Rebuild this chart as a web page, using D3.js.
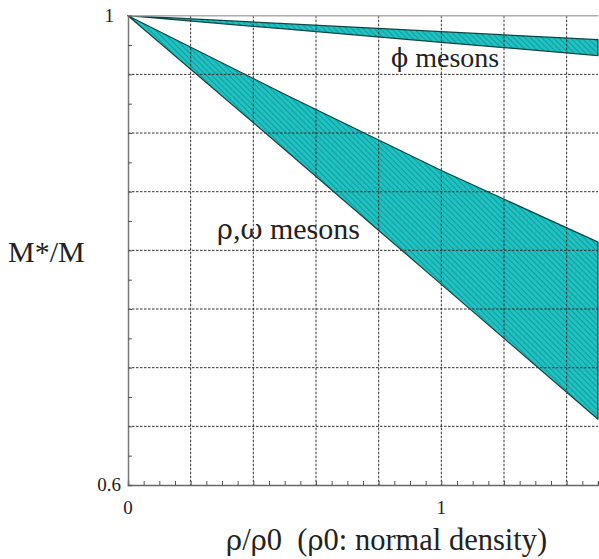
<!DOCTYPE html>
<html><head><meta charset="utf-8">
<script src="https://cdn.jsdelivr.net/npm/d3@7"></script>
<style>
html,body{margin:0;padding:0;background:#fff;}
text{font-family:"Liberation Serif","Times New Roman",serif;fill:#222;}
tspan.gr{font-family:"DejaVu Serif",serif;}
</style></head>
<body>
<script>
// Data
const density = [0, 0.5, 1.0, 1.5];
const phiUpper = [1, 0.9932, 0.9864, 0.9796];
const phiLower = [1, 0.9887, 0.9773, 0.9660];
const rhoUpper = [1, 0.9330, 0.8680, 0.8070];
const rhoLower = [1, 0.8860, 0.7710, 0.6560];
const xTickLabels = [0, 1];
const yTickLabels = [0.6, 1];

const W = 599, H = 559;
const x = d3.scaleLinear().domain([0, 1.5]).range([128, 598]);
const y = d3.scaleLinear().domain([0.6, 1]).range([485, 15.7]);

const svg = d3.select("body").append("svg").attr("width", W).attr("height", H);
const defs = svg.append("defs");
const pat = defs.append("pattern").attr("id", "hatch").attr("patternUnits", "userSpaceOnUse")
  .attr("width", 4).attr("height", 4).attr("patternTransform", "rotate(-45)");
pat.append("rect").attr("width", 4).attr("height", 4).attr("fill", "#1fc2c2");
pat.append("line").attr("x1", 0).attr("y1", 0).attr("x2", 0).attr("y2", 4)
  .attr("stroke", "#128585").attr("stroke-width", 1.3);

const bandData = (up, lo) => density.map((d, i) => ({x: d, y0: lo[i], y1: up[i]}));
const area = d3.area().x(d => x(d.x)).y0(d => y(d.y0)).y1(d => y(d.y1));

[[phiUpper, phiLower], [rhoUpper, rhoLower]].forEach(([u, l]) => {
  svg.append("path").datum(bandData(u, l)).attr("d", area)
    .attr("fill", "url(#hatch)").attr("stroke", "#0b4545").attr("stroke-width", 1.2)
    .attr("stroke-linejoin", "round");
});

// grid
const g = svg.append("g");
d3.range(0.2, 1.45, 0.2).forEach(v => {
  g.append("line").attr("x1", x(v)).attr("x2", x(v)).attr("y1", y(1)).attr("y2", y(0.6))
    .attr("stroke", "#333").attr("stroke-width", 1).attr("stroke-dasharray", "2.5,1.5");
});
d3.range(0.65, 0.99, 0.05).forEach(v => {
  g.append("line").attr("x1", x(0)).attr("x2", x(1.5)).attr("y1", y(v)).attr("y2", y(v))
    .attr("stroke", "#333").attr("stroke-width", 1).attr("stroke-dasharray", "2.5,1.5");
});
// top border
g.append("line").attr("x1", x(0)).attr("x2", x(1.5)).attr("y1", y(1)).attr("y2", y(1))
  .attr("stroke", "#aaa").attr("stroke-width", 1.5);

// axes
const xAxis = d3.axisBottom(x).tickValues(d3.range(0, 1.51, 0.05)).tickSize(-4).tickFormat("");
svg.append("g").attr("transform", `translate(0,${y(0.6)})`).call(xAxis)
  .call(s => { s.select(".domain").attr("stroke", "#666").attr("stroke-width", 1.5); s.selectAll(".tick line").attr("stroke", "#555"); });
const yAxis = d3.axisLeft(y).tickValues(d3.range(0.6, 1.001, 0.025)).tickSize(-4).tickFormat("");
svg.append("g").attr("transform", `translate(${x(0)},0)`).call(yAxis)
  .call(s => { s.select(".domain").attr("stroke", "#777").attr("stroke-width", 1.5); s.selectAll(".tick line").attr("stroke", "#555"); });

// tick labels
svg.selectAll(".xl").data(xTickLabels).enter().append("text")
  .attr("x", d => x(d)).attr("y", 514).attr("text-anchor", "middle")
  .attr("font-size", 19).text(d => d);
svg.selectAll(".yl").data(yTickLabels).enter().append("text")
  .attr("x", d => d === 1 ? 114 : 121).attr("y", d => y(d) + 6).attr("text-anchor", "end")
  .attr("font-size", 19).text(d => d);

// labels with Greek spans
function label(xp, yp, size, parts) {
  const t = svg.append("text").attr("x", xp).attr("y", yp).attr("font-size", size)
    .style("white-space", "pre");
  parts.forEach(([s, gr]) => { const ts = t.append("tspan").text(s); if (gr) ts.attr("class", "gr").attr("font-size", size * 0.9); });
  return t;
}
svg.append("text").attr("x", 8).attr("y", 262).attr("font-size", 30).text("M*/M");
label(226, 550, 30.5, [["ρ", 1], ["/", 0], ["ρ", 1], ["0  (", 0], ["ρ", 1], ["0: normal density)", 0]]);
label(217, 239, 30, [["ρ", 1], [",", 0], ["ω", 1], [" mesons", 0]]);
label(391, 67, 28, [["ϕ", 1], [" mesons", 0]]);
</script>
</body></html>
